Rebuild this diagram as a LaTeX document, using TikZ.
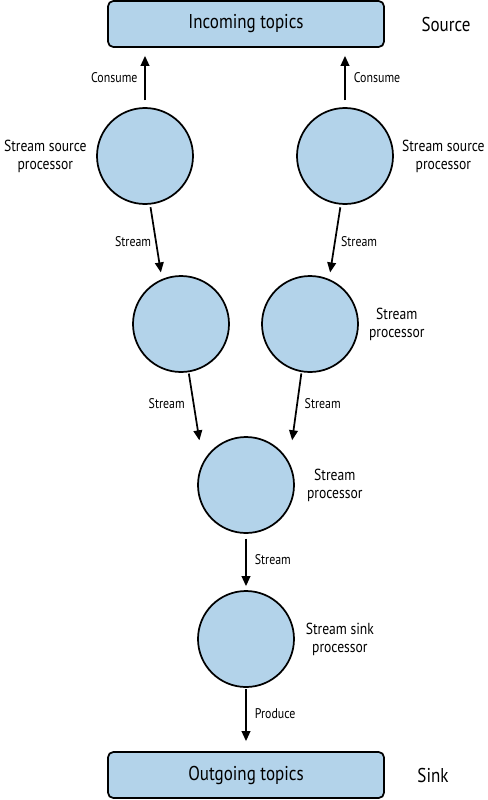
\documentclass[tikz,border=0pt]{standalone}
\usepackage{fontspec}
\setmainfont{PT Sans}[FakeStretch=0.85]
\usetikzlibrary{arrows.meta, positioning}
\definecolor{nodeblue}{HTML}{B3D3EA}

\begin{document}
\begin{tikzpicture}[
        x=0.75pt, y=-0.75pt,
        topic/.style={rectangle, draw, rounded corners=4pt, line width=1.3pt, fill=nodeblue, minimum width=207pt, minimum height=34.5pt, font=\fontsize{15}{17}\selectfont},
        proc/.style={circle, draw, line width=1.3pt, fill=nodeblue, minimum size=72pt, inner sep=0pt},
        side/.style={align=center, inner sep=2pt, font=\fontsize{12}{13.5}\selectfont},
        lbl/.style={inner sep=2pt, font=\fontsize{10.5}{12}\selectfont},
        arrow/.style={-{Triangle[length=7.5pt, width=6.5pt]}, line width=1.3pt}
    ]
        \useasboundingbox (0,0) rectangle (488,800);

        % Topics
        \node[topic] (incoming) at (246,24) {Incoming topics};
        \node[topic] (outgoing) at (246,775) {Outgoing topics};
        \node[side, font=\fontsize{15}{17}\selectfont] (source) at (446,24) {Source};
        \node[side, font=\fontsize{15}{17}\selectfont] (sink) at (433,775) {Sink};

        % Processors
        \node[proc] (src1) at (145,156) {};
        \node[proc] (src2) at (345,156) {};
        \node[proc] (proc1) at (181,324) {};
        \node[proc] (proc2) at (310,324) {};
        \node[proc] (merge) at (246,485) {};
        \node[proc] (sinkproc) at (246,639) {};

        % Processor labels
        \node[side, left=5pt of src1] (src1label) {Stream source\\processor};
        \node[side, right=4pt of src2] (src2label) {Stream source\\processor};
        \node[side, right=5.5pt of proc2] (proc2label) {Stream\\processor};
        \node[side, right=7pt of merge] (mergelabel) {Stream\\processor};
        \node[side, right=6pt of sinkproc] (sinklabel) {Stream sink\\processor};

        % Connections
        \draw[arrow, shorten <=5pt, shorten >=6pt] (src1) -- node[lbl, left=3pt] {Consume} (incoming.south -| src1);
        \draw[arrow, shorten <=5pt, shorten >=6pt] (src2) -- node[lbl, right=4pt] {Consume} (incoming.south -| src2);
        \draw[arrow, shorten <=2pt, shorten >=5pt] (src1.-84) -- node[lbl, left=1pt] {Stream} (proc1.113);
        \draw[arrow, shorten <=2pt, shorten >=5pt] (src2.-95) -- node[lbl, right=2pt] {Stream} (proc2.67);
        \draw[arrow, shorten <=1pt, shorten >=16.5pt] (proc1.-81) -- node[lbl, left=4pt, pos=0.35] {Stream} (merge.152);
        \draw[arrow, shorten <=1pt, shorten >=16.5pt] (proc2.-100) -- node[lbl, right=3pt, pos=0.35] {Stream} (merge.28);
        \draw[arrow, shorten <=3.5pt, shorten >=3pt] (merge) -- node[lbl, right=4pt, pos=0.45] {Stream} (sinkproc);
        \draw[arrow, shorten <=1pt, shorten >=7.5pt] (sinkproc) -- node[lbl, right=4pt, pos=0.4] {Produce} (outgoing);
    \end{tikzpicture}
\end{document}
